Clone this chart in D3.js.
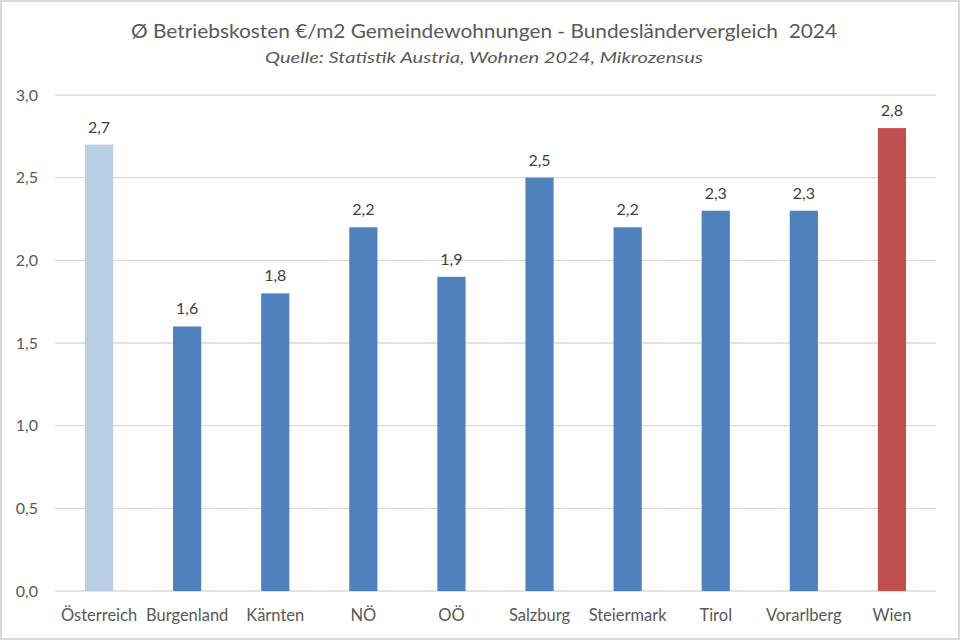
<!DOCTYPE html>
<html>
<head>
<meta charset="utf-8">
<script src="https://cdn.jsdelivr.net/npm/d3@7"></script>
<style>
  body { margin: 0; background: #fff; }
  svg { display: block; font-family: Lato, "Open Sans", sans-serif; }
</style>
</head>
<body>
<div class="chart"></div>
<script>
// Betriebskosten je Bundesland
var laender = ['Österreich', 'Burgenland', 'Kärnten', 'NÖ', 'OÖ', 'Salzburg', 'Steiermark', 'Tirol', 'Vorarlberg', 'Wien'];
var kosten = [2.7, 1.6, 1.8, 2.2, 1.9, 2.5, 2.2, 2.3, 2.3, 2.8];
var yTicks = [0, 0.5, 1.0, 1.5, 2.0, 2.5, 3.0];
var titel = 'Ø Betriebskosten €/m2 Gemeindewohnungen - Bundesländervergleich  2024';
var quelle = 'Quelle: Statistik Austria, Wohnen 2024, Mikrozensus';

var width = 960, height = 640;
var margin = {top: 95, right: 24, bottom: 49, left: 55};

var fmt = function(v) { return d3.format('.1f')(v).replace('.', ','); };

var colorFor = function(name) {
  if (name === 'Österreich') return '#b9cde5';
  if (name === 'Wien') return '#c0504d';
  return '#4f81bd';
};

var svg = d3.select('.chart').append('svg')
  .attr('width', width)
  .attr('height', height);

// outer frame
svg.append('rect')
  .attr('x', 1).attr('y', 1)
  .attr('width', width - 2).attr('height', height - 2)
  .attr('fill', '#fff')
  .attr('stroke', '#d9d9d9')
  .attr('stroke-width', 2);

var xScale = d3.scaleBand()
  .domain(laender)
  .range([margin.left, width - margin.right])
  .paddingInner(0.68)
  .paddingOuter(0.34);

var yScale = d3.scaleLinear()
  .domain([0, 3])
  .range([height - margin.bottom, margin.top]);

// gridlines
svg.append('g')
  .selectAll('line')
  .data(yTicks)
  .enter()
  .append('line')
    .attr('x1', margin.left)
    .attr('x2', width - margin.right)
    .attr('y1', function(d) { return yScale(d); })
    .attr('y2', function(d) { return yScale(d); })
    .attr('stroke', '#d9d9d9')
    .attr('stroke-width', 1.3);

// y axis labels
var yAxis = d3.axisLeft(yScale)
  .tickValues(yTicks)
  .tickFormat(fmt)
  .tickSize(0)
  .tickPadding(17);

svg.append('g')
  .attr('transform', 'translate(' + margin.left + ',0)')
  .call(yAxis)
  .call(function(g) { g.select('.domain').remove(); })
  .selectAll('text')
    .attr('font-size', 16)
    .attr('font-family', 'Lato, sans-serif')
    .attr('fill', '#595959');

// x axis labels
var xAxis = d3.axisBottom(xScale).tickSize(0).tickPadding(18);

svg.append('g')
  .attr('transform', 'translate(0,' + (height - margin.bottom) + ')')
  .call(xAxis)
  .call(function(g) { g.select('.domain').remove(); })
  .selectAll('text')
    .attr('font-size', 16.5)
    .attr('font-family', 'Lato, sans-serif')
    .attr('fill', '#595959');

// bars
svg.append('g')
  .selectAll('rect')
  .data(kosten)
  .enter()
  .append('rect')
    .attr('x', function(d, i) { return xScale(laender[i]); })
    .attr('y', function(d) { return yScale(d); })
    .attr('width', xScale.bandwidth())
    .attr('height', function(d) { return yScale(0) - yScale(d); })
    .attr('fill', function(d, i) { return colorFor(laender[i]); });

// value labels
svg.append('g')
  .selectAll('text')
  .data(kosten)
  .enter()
  .append('text')
    .attr('x', function(d, i) { return xScale(laender[i]) + xScale.bandwidth() / 2; })
    .attr('y', function(d) { return yScale(d) - 12; })
    .attr('text-anchor', 'middle')
    .attr('font-size', 16)
    .attr('fill', '#404040')
    .text(fmt);

// title
svg.append('text')
  .attr('x', 484)
  .attr('y', 38)
  .attr('text-anchor', 'middle')
  .attr('font-size', 20)
  .attr('fill', '#595959')
  .style('white-space', 'pre')
  .attr('textLength', 706)
  .attr('lengthAdjust', 'spacingAndGlyphs')
  .text(titel);

svg.append('text')
  .attr('x', 484)
  .attr('y', 63)
  .attr('text-anchor', 'middle')
  .attr('font-size', 16)
  .attr('font-style', 'italic')
  .attr('fill', '#595959')
  .attr('textLength', 438)
  .attr('lengthAdjust', 'spacingAndGlyphs')
  .text(quelle);
</script>
</body>
</html>
